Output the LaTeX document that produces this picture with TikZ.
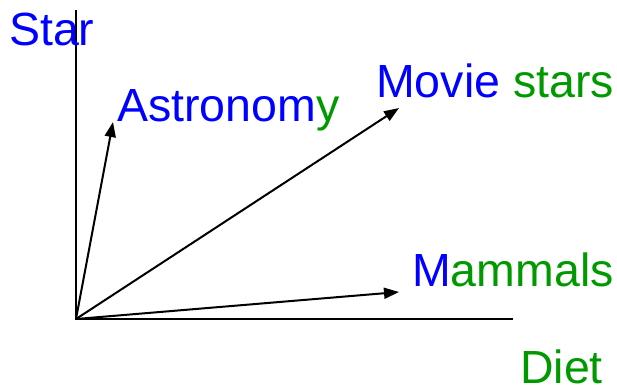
\documentclass[tikz,border=0pt]{standalone}
\usepackage{fontspec}
\setmainfont{Liberation Sans}
\usetikzlibrary{arrows.meta}
\definecolor{wordblue}{RGB}{0,0,255}
\definecolor{wordgreen}{RGB}{0,153,0}
\tikzset{
  word/.style={anchor=base west,inner sep=0pt,font=\fontsize{46.5}{50}\selectfont},
  vec/.style={line width=2pt,-{Triangle[length=15pt,width=11pt]}}
}

\begin{document}
\begin{tikzpicture}[x=1pt,y=-1pt]
            \useasboundingbox (0,0) rectangle (617,391);
            \coordinate (O) at (76,319);
            \coordinate (Y) at (76,10);
            \coordinate (X) at (513,319);
            \coordinate (A) at (113,122);
            \coordinate (M) at (399,108);
            \coordinate (N) at (399,292);

            \draw[line width=2.4pt] (Y)--(O)--(X);
            \draw[vec] (O)--(A);
            \draw[vec] (O)--(M);
            \draw[vec] (O)--(N);

            \node[word,text=wordblue] (star) at (9,45) {Star};
            \node[word] (astro) at (117,121) {\textcolor{wordblue}{Astronom}\textcolor{wordgreen}{y}};
            \node[word] (movie) at (376,97) {\textcolor{wordblue}{Movie} \textcolor{wordgreen}{stars}};
            \node[word] (mammals) at (412,286) {\textcolor{wordblue}{M}\textcolor{wordgreen}{ammals}};
            \node[word,text=wordgreen] (diet) at (520,383) {Diet};
        \end{tikzpicture}
\end{document}
